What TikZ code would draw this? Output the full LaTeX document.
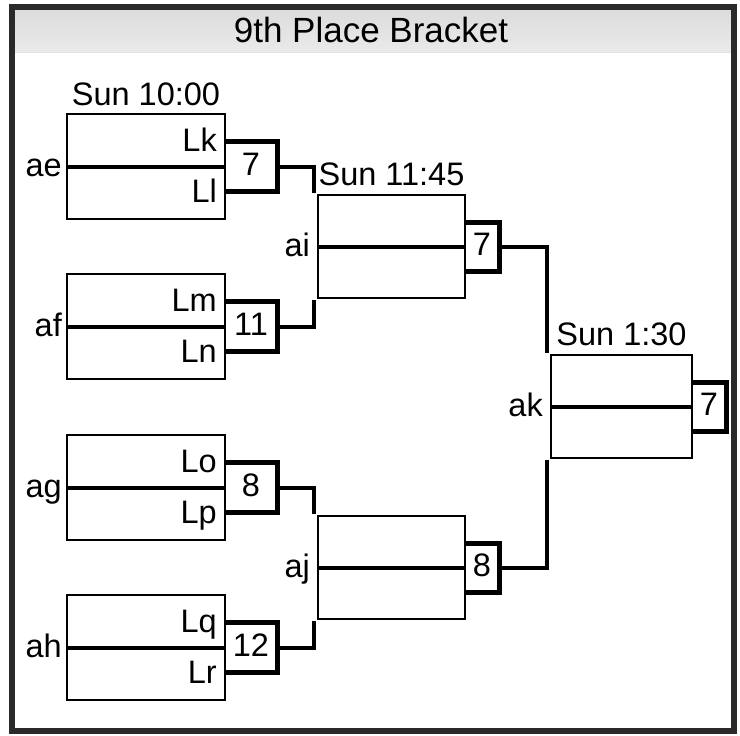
\documentclass[tikz,border=0pt]{standalone}
\usepackage{fontspec}
\setmainfont{Liberation Sans}
\usetikzlibrary{calc}
\definecolor{framecol}{HTML}{2B2929}
\definecolor{bartop}{HTML}{DCDCDC}
\definecolor{barmid}{HTML}{FAFBFB}
\definecolor{barbot}{HTML}{EAEAEA}
\begin{document}
\begin{tikzpicture}[x=1pt,y=-1pt,
  match/.style={draw, line width=2pt, rectangle, inner sep=0pt, outer sep=0pt, minimum height=105pt},
  scorebox/.style={rectangle, inner sep=0pt, outer sep=0pt, minimum height=50pt, anchor=west},
  scoreline/.style={line width=5pt, line join=miter},
  midline/.style={line width=4pt},
  conn/.style={line width=4pt},
  lbl/.style={inner sep=0pt, font=\fontsize{32.5}{34}\selectfont},
]
\useasboundingbox (0,0) rectangle (740,736);
\fill[white] (0,0) rectangle (740,736);
% title bar
\shade[top color=bartop, middle color=barmid, bottom color=barbot] (15,10) rectangle (731,52);
\draw[gray!20, line width=1pt] (15,52.5) -- (731,52.5);
\node[inner sep=0pt, anchor=base, font=\fontsize{35}{36}\selectfont] (title) at (371,42) {9th Place Bracket};
% frame
\draw[framecol, line width=6pt] (12,7) rectangle (734,731);

% first round boxes
\node[match, minimum width=158pt] (ae) at (146,166.5) {};
\node[match, minimum width=158pt] (af) at (146,326.5) {};
\node[match, minimum width=158pt] (ag) at (146,487.5) {};
\node[match, minimum width=158pt] (ah) at (146,647.5) {};
% second round
\node[match, minimum width=147pt, minimum height=103pt] (ai) at (391.5,246.5) {};
\node[match, minimum width=147pt, minimum height=103pt] (aj) at (391.5,567.5) {};
% final
\node[match, minimum width=141pt, minimum height=103pt] (ak) at (621.5,406.5) {};

% middle lines
\foreach \m in {ae,af,ag,ah,ai,aj,ak}{
  \draw[midline] (\m.west) -- (\m.east);
}

% score boxes
\node[scorebox, minimum width=52pt] (sae) at (ae.east) {};
\node[scorebox, minimum width=52pt] (saf) at (af.east) {};
\node[scorebox, minimum width=52pt] (sag) at (ag.east) {};
\node[scorebox, minimum width=52pt] (sah) at (ah.east) {};
\node[scorebox, minimum width=34pt, minimum height=49pt] (sai) at (ai.east) {};
\node[scorebox, minimum width=34pt, minimum height=49pt] (saj) at (aj.east) {};
\node[scorebox, minimum width=34pt, minimum height=49pt] (sak) at (ak.east) {};
\foreach \s in {sae,saf,sag,sah,sai,saj,sak}{
  \draw[scoreline] (\s.north west) -- (\s.north east) -- (\s.south east) -- (\s.south west);
}
% score numbers
\node[lbl, anchor=base] at ($(sae.center)+(0,9)$) {7};
\node[lbl, anchor=base] at ($(saf.center)+(0,9)$) {11};
\node[lbl, anchor=base] at ($(sag.center)+(0,9)$) {8};
\node[lbl, anchor=base] at ($(sah.center)+(0,9)$) {12};
\node[lbl, anchor=base] at ($(sai.center)+(0,9)$) {7};
\node[lbl, anchor=base] at ($(saj.center)+(0,9)$) {8};
\node[lbl, anchor=base] at ($(sak.center)+(0,9)$) {7};

% match labels
\node[lbl, anchor=base east] at ($(ae.west)+(-5,10)$) {ae};
\node[lbl, anchor=base east] at ($(af.west)+(-5,10)$) {af};
\node[lbl, anchor=base east] at ($(ag.west)+(-5,10)$) {ag};
\node[lbl, anchor=base east] at ($(ah.west)+(-5,10)$) {ah};
\node[lbl, anchor=base east] at ($(ai.west)+(-8,10)$) {ai};
\node[lbl, anchor=base east] at ($(aj.west)+(-8,10)$) {aj};
\node[lbl, anchor=base east] at ($(ak.west)+(-8,10)$) {ak};

% team labels
\node[lbl, anchor=base east] at ($(ae.east)+(-8,-15)$) {Lk};
\node[lbl, anchor=base east] at ($(ae.east)+(-8,36)$) {Ll};
\node[lbl, anchor=base east] at ($(af.east)+(-8,-15)$) {Lm};
\node[lbl, anchor=base east] at ($(af.east)+(-8,36)$) {Ln};
\node[lbl, anchor=base east] at ($(ag.east)+(-8,-15)$) {Lo};
\node[lbl, anchor=base east] at ($(ag.east)+(-8,36)$) {Lp};
\node[lbl, anchor=base east] at ($(ah.east)+(-8,-15)$) {Lq};
\node[lbl, anchor=base east] at ($(ah.east)+(-8,36)$) {Lr};

% time labels
\node[lbl, anchor=base] at ($(ae.north)+(0,-9)$) {Sun 10:00};
\node[lbl, anchor=base] at ($(ai.north)+(0,-10)$) {Sun 11:45};
\node[lbl, anchor=base] at ($(ak.north)+(0,-10)$) {Sun 1:30};

% connectors
\draw[conn] (sae.east) -| ([xshift=-4.5pt,yshift=2pt]ai.north west);
\draw[conn] (saf.east) -| ([xshift=-4.5pt,yshift=-2pt]ai.south west);
\draw[conn] (sag.east) -| ([xshift=-4.5pt,yshift=2pt]aj.north west);
\draw[conn] (sah.east) -| ([xshift=-4.5pt,yshift=-2pt]aj.south west);
\draw[conn] (sai.east) -| ([xshift=-4.5pt,yshift=2pt]ak.north west);
\draw[conn] (saj.east) -| ([xshift=-4.5pt,yshift=-2pt]ak.south west);
\end{tikzpicture}
\end{document}
